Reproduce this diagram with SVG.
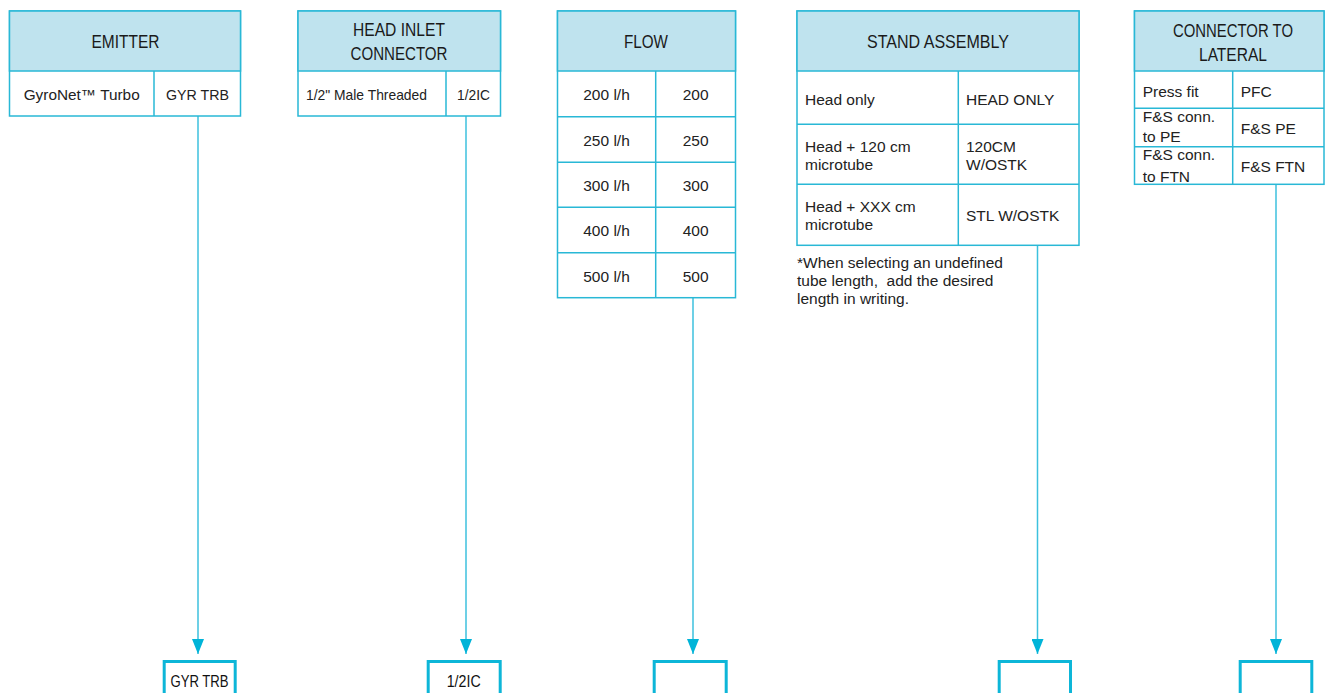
<svg xmlns="http://www.w3.org/2000/svg" width="1325" height="693" viewBox="0 0 1325 693">
<defs>
<style>
.frame{fill:#ffffff;stroke:#29b8d6;stroke-width:1.5}
.head{fill:#bfe3ee;stroke:#29b8d6;stroke-width:1.5}
.grid{stroke:#29b8d6;stroke-width:1.5;fill:none}
.h{font-family:"Liberation Sans",Arial,sans-serif;font-size:18px;fill:#1a1a1a;text-anchor:middle}
.t{font-family:"Liberation Sans",Arial,sans-serif;font-size:15px;fill:#222}
.c{text-anchor:middle}
.fn{font-family:"Liberation Sans",Arial,sans-serif;font-size:15.5px;fill:#222}
.wire{stroke:#3cc1de;stroke-width:1.5;fill:none;marker-end:url(#arr)}
.out{fill:#ffffff;stroke:#0db6d8;stroke-width:3}
.ot{font-family:"Liberation Sans",Arial,sans-serif;font-size:16px;fill:#111;text-anchor:middle}
</style>
<marker id="arr" viewBox="0 0 15 12" refX="15" refY="6" markerWidth="15" markerHeight="12" markerUnits="userSpaceOnUse" orient="auto">
<path d="M0,0 L15,6 L0,12 z" fill="#00b4d8"/>
</marker>
</defs>

<g id="connectors">
<line class="wire" x1="198" y1="116" x2="198" y2="654"/>
<line class="wire" x1="466" y1="116" x2="466" y2="654"/>
<line class="wire" x1="693" y1="298" x2="693" y2="654"/>
<line class="wire" x1="1037.5" y1="245" x2="1037.5" y2="654"/>
<line class="wire" x1="1276" y1="184" x2="1276" y2="654"/>
</g>

<g id="emitter">
<rect class="frame" x="9.5" y="11" width="231" height="105"/>
<rect class="head" x="9.5" y="11" width="231" height="60"/>
<line class="grid" x1="154" y1="71" x2="154" y2="116"/>
<text class="h" x="125.5" y="48.3" textLength="68" lengthAdjust="spacingAndGlyphs">EMITTER</text>
<text class="t c" x="81.7" y="99.5" textLength="116" lengthAdjust="spacingAndGlyphs">GyroNet™ Turbo</text>
<text class="t c" x="197.5" y="99.5" textLength="63" lengthAdjust="spacingAndGlyphs">GYR TRB</text>
</g>

<g id="head-inlet">
<rect class="frame" x="298" y="11" width="202.5" height="105"/>
<rect class="head" x="298" y="11" width="202.5" height="60"/>
<line class="grid" x1="446" y1="71" x2="446" y2="116"/>
<text class="h" x="399" y="36" textLength="92" lengthAdjust="spacingAndGlyphs">HEAD INLET</text>
<text class="h" x="399" y="60" textLength="97" lengthAdjust="spacingAndGlyphs">CONNECTOR</text>
<text class="t" x="306" y="100" textLength="121" lengthAdjust="spacingAndGlyphs">1/2" Male Threaded</text>
<text class="t c" x="473.5" y="100" textLength="33" lengthAdjust="spacingAndGlyphs">1/2IC</text>
</g>

<g id="flow">
<rect class="frame" x="557.5" y="11" width="178" height="286.7"/>
<rect class="head" x="557.5" y="11" width="178" height="60"/>
<line class="grid" x1="655.7" y1="71" x2="655.7" y2="297.7"/>
<line class="grid" x1="557.5" y1="116.7" x2="735.5" y2="116.7"/>
<line class="grid" x1="557.5" y1="162.3" x2="735.5" y2="162.3"/>
<line class="grid" x1="557.5" y1="207.3" x2="735.5" y2="207.3"/>
<line class="grid" x1="557.5" y1="252.7" x2="735.5" y2="252.7"/>
<text class="h" x="646" y="48.3" textLength="44" lengthAdjust="spacingAndGlyphs">FLOW</text>
<text class="t c" x="606.5" y="100.3" style="font-size:15.5px">200 l/h</text>
<text class="t c" x="695.6" y="100.3" style="font-size:15.5px">200</text>
<text class="t c" x="606.5" y="145.8" style="font-size:15.5px">250 l/h</text>
<text class="t c" x="695.6" y="145.8" style="font-size:15.5px">250</text>
<text class="t c" x="606.5" y="191" style="font-size:15.5px">300 l/h</text>
<text class="t c" x="695.6" y="191" style="font-size:15.5px">300</text>
<text class="t c" x="606.5" y="236.3" style="font-size:15.5px">400 l/h</text>
<text class="t c" x="695.6" y="236.3" style="font-size:15.5px">400</text>
<text class="t c" x="606.5" y="281.5" style="font-size:15.5px">500 l/h</text>
<text class="t c" x="695.6" y="281.5" style="font-size:15.5px">500</text>
</g>

<g id="stand-assembly">
<rect class="frame" x="797" y="11" width="282" height="234.3"/>
<rect class="head" x="797" y="11" width="282" height="60"/>
<line class="grid" x1="958.3" y1="71" x2="958.3" y2="245.3"/>
<line class="grid" x1="797" y1="124.3" x2="1079" y2="124.3"/>
<line class="grid" x1="797" y1="184.3" x2="1079" y2="184.3"/>
<text class="h" x="938" y="48.3" textLength="142" lengthAdjust="spacingAndGlyphs">STAND ASSEMBLY</text>
<text class="t" x="805" y="105" style="font-size:15.5px">Head only</text>
<text class="t" x="966" y="105" style="font-size:15.5px">HEAD ONLY</text>
<text class="t" x="805" y="151.7" style="font-size:15.5px">Head + 120 cm</text>
<text class="t" x="805" y="170" style="font-size:15.5px">microtube</text>
<text class="t" x="966" y="151.7" style="font-size:15.5px">120CM</text>
<text class="t" x="966" y="170" style="font-size:15.5px">W/OSTK</text>
<text class="t" x="805" y="212.3" style="font-size:15.5px">Head + XXX cm</text>
<text class="t" x="805" y="230" style="font-size:15.5px">microtube</text>
<text class="t" x="966" y="221" style="font-size:15.5px">STL W/OSTK</text>
</g>

<g id="footnote">
<text class="fn" x="797" y="268.3">*When selecting an undefined</text>
<text class="fn" x="797" y="286.2" xml:space="preserve">tube length,  add the desired</text>
<text class="fn" x="797" y="304.2">length in writing.</text>
</g>

<g id="connector-to-lateral">
<rect class="frame" x="1134.5" y="11" width="189.5" height="173.3"/>
<rect class="head" x="1134.5" y="11" width="189.5" height="60"/>
<line class="grid" x1="1232.7" y1="71" x2="1232.7" y2="184.3"/>
<line class="grid" x1="1134.5" y1="108.3" x2="1324" y2="108.3"/>
<line class="grid" x1="1134.5" y1="146.7" x2="1324" y2="146.7"/>
<text class="h" x="1233" y="36.7" textLength="120" lengthAdjust="spacingAndGlyphs">CONNECTOR TO</text>
<text class="h" x="1233" y="61" textLength="68" lengthAdjust="spacingAndGlyphs">LATERAL</text>
<text class="t" x="1142.7" y="96.7" style="font-size:15.5px">Press fit</text>
<text class="t" x="1240.7" y="96.7" style="font-size:15.5px">PFC</text>
<text class="t" x="1142.7" y="121.7" style="font-size:15.5px">F&amp;S conn.</text>
<text class="t" x="1142.7" y="141.7" style="font-size:15.5px">to PE</text>
<text class="t" x="1240.7" y="134.3" style="font-size:15.5px">F&amp;S PE</text>
<text class="t" x="1142.7" y="160" style="font-size:15.5px">F&amp;S conn.</text>
<text class="t" x="1142.7" y="181.7" style="font-size:15.5px">to FTN</text>
<text class="t" x="1240.7" y="172.3" style="font-size:15.5px">F&amp;S FTN</text>
</g>

<g id="out-emitter">
<rect class="out" x="164.2" y="661.5" width="71" height="50"/>
<text class="ot" x="199.5" y="687" textLength="58" lengthAdjust="spacingAndGlyphs">GYR TRB</text>
</g>
<g id="out-head-inlet">
<rect class="out" x="428.2" y="661.5" width="72" height="50"/>
<text class="ot" x="463.7" y="687" textLength="34" lengthAdjust="spacingAndGlyphs">1/2IC</text>
</g>
<g id="out-flow">
<rect class="out" x="654.2" y="661.5" width="72" height="50"/>
</g>
<g id="out-stand">
<rect class="out" x="999.2" y="661.5" width="71.3" height="50"/>
</g>
<g id="out-lateral">
<rect class="out" x="1240.2" y="661.5" width="71.6" height="50"/>
</g>
</svg>
